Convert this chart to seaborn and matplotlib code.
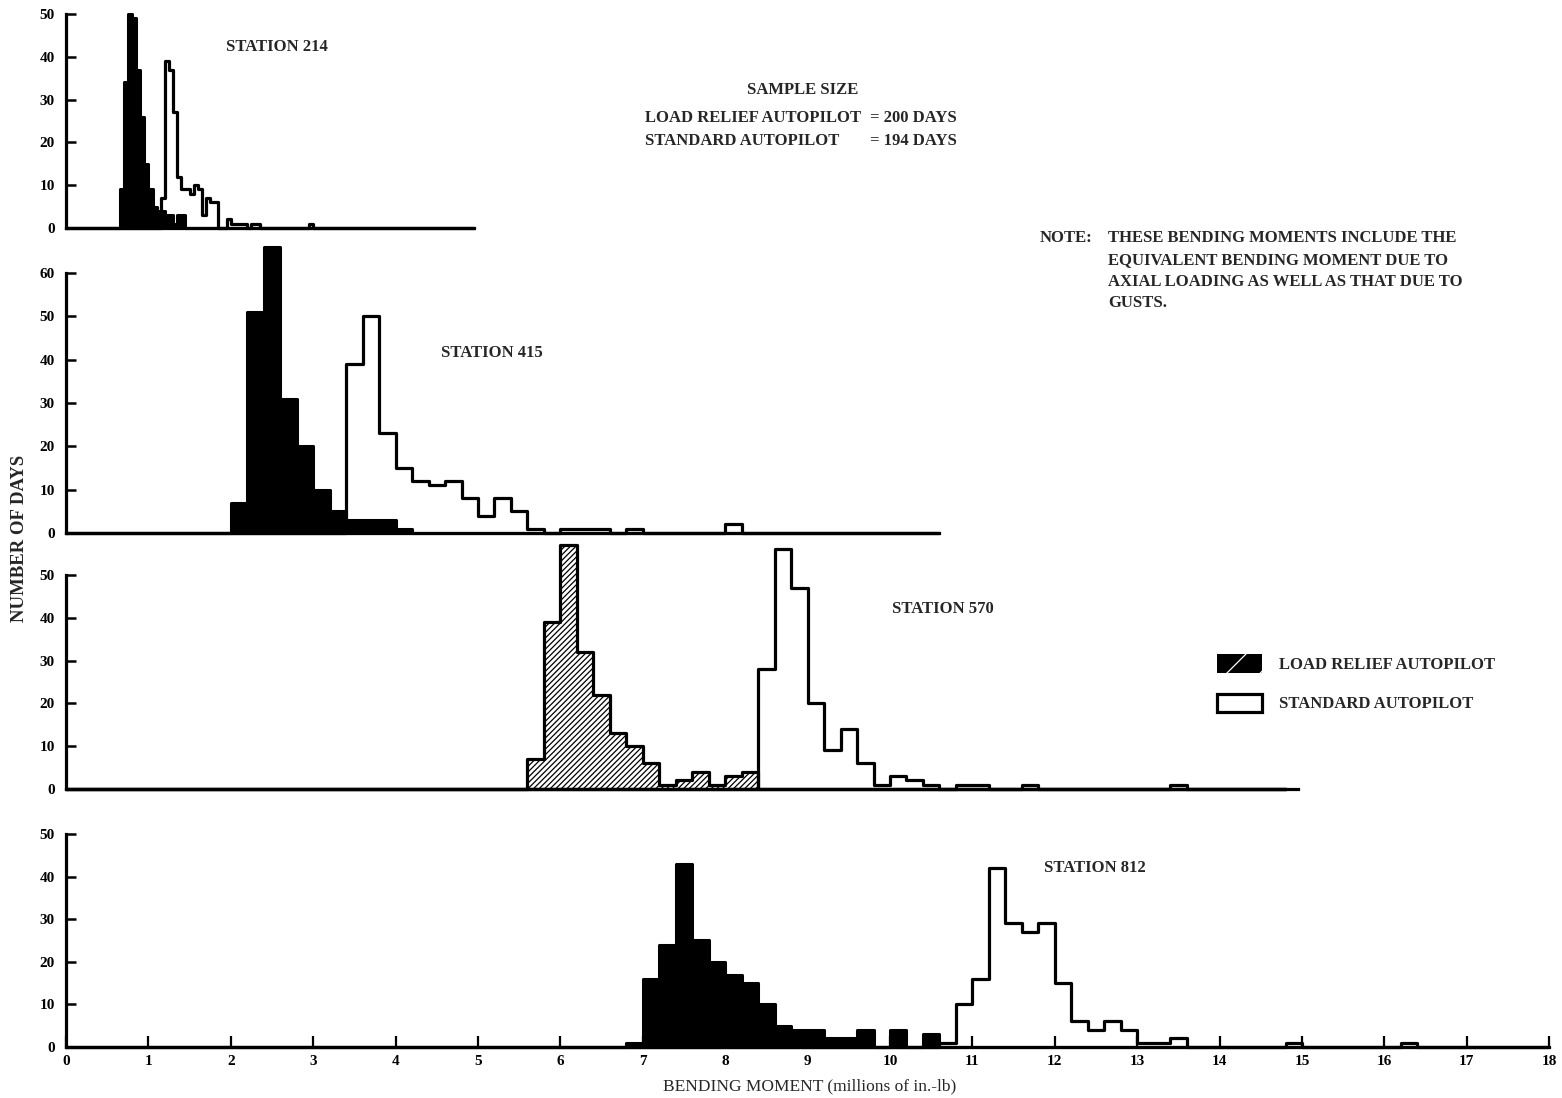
import numpy as np
import pandas as pd
import matplotlib
matplotlib.use("Agg")
import matplotlib.pyplot as plt
import seaborn as sns
from matplotlib.patches import Patch

sns.set_theme(style="white")
plt.rcParams['font.family'] = ['Liberation Serif', 'DejaVu Serif']
plt.rcParams['font.weight'] = 'bold'
plt.rcParams['hatch.linewidth'] = 0.9

# ---------------- data ----------------
stations = ["STATION 214", "STATION 415", "STATION 570", "STATION 812"]
bin_widths = [0.05, 0.2, 0.2, 0.2]          # millions of in.-lb
axis_ends = [4.95, 10.6, 14.95, 18.0]
y_tops = [50, 60, 50, 50]

# Station 214
relief_214_from = 0.65
relief_214 = [9, 34, 50, 49, 37, 26, 15, 9, 5, 4, 4, 3, 3, 1, 3, 3]
standard_214_from = 1.15
standard_214 = [7, 39, 37, 27, 12, 9, 9, 8, 10, 9, 3, 7, 6, 6, 0, 0, 2, 1, 1, 1,
                1, 0, 1, 1, 0, 0, 0, 0, 0, 0, 0, 0, 0, 0, 0, 0, 1]

# Station 415
relief_415_from = 2.0
relief_415 = [7, 51, 66, 31, 20, 10, 5, 3, 3, 3, 1]
standard_415_from = 3.4
standard_415 = [39, 50, 23, 15, 12, 11, 12, 8, 4, 8, 5, 1, 0, 1, 1, 1, 0, 1,
                0, 0, 0, 0, 0, 2]

# Station 570
relief_570_from = 5.6
relief_570 = [7, 39, 57, 32, 22, 13, 10, 6, 1, 2, 4, 1, 3, 4]
standard_570_from = 8.4
standard_570 = [28, 56, 47, 20, 9, 14, 6, 1, 3, 2, 1, 0, 1, 1, 0, 0, 1,
                0, 0, 0, 0, 0, 0, 0, 0, 1]

# Station 812
relief_812_from = 6.8
relief_812 = [1, 16, 24, 43, 25, 20, 17, 15, 10, 5, 4, 4, 2, 2, 4, 0, 4, 0, 3]
standard_812_from = 10.6
standard_812 = [1, 10, 16, 42, 29, 27, 29, 15, 6, 4, 6, 4, 1, 1, 2, 0, 0, 0, 0, 0,
                0, 1, 0, 0, 0, 0, 0, 0, 1]

relief_sets = [(relief_214_from, relief_214), (relief_415_from, relief_415),
               (relief_570_from, relief_570), (relief_812_from, relief_812)]
standard_sets = [(standard_214_from, standard_214), (standard_415_from, standard_415),
                 (standard_570_from, standard_570), (standard_812_from, standard_812)]

sample_relief = 200
sample_standard = 194

# ---------------- figure ----------------
W, H = 1562, 1098
fig = plt.figure(figsize=(W / 100, H / 100), dpi=100)

x0_px = 66.0
px_per_unit = 82.4
# (bottom px, top px) of each panel, top px corresponds to y_tops
panel_y = [(228, 14), (533, 273), (789, 575), (1047, 834)]

TXT = 12
TICK = 11


def frame(start, counts, width, end):
    nb = int(round(end / width))
    edges = np.round(np.arange(nb + 1) * width, 4)
    centers = edges[:-1] + width / 2
    w = np.zeros(nb)
    i0 = int(round(start / width))
    for i, c in enumerate(counts):
        w[i0 + i] = c
    return pd.DataFrame({"x": centers, "w": w}), [float(e) for e in edges]


axes = []
for k in range(4):
    width = bin_widths[k]
    end = axis_ends[k]
    nb_end = np.floor(end / width + 1e-6) * width
    yb, yt = panel_y[k]
    left = x0_px / W
    axw = end * px_per_unit / W
    bottom = 1 - yb / H
    axh = (yb - yt) / H
    ax = fig.add_axes([left, bottom, axw, axh])
    axes.append(ax)

    rdf, redges = frame(relief_sets[k][0], relief_sets[k][1], width, nb_end)
    sdf, sedges = frame(standard_sets[k][0], standard_sets[k][1], width, nb_end)

    if k == 2:
        rkw = dict(facecolor="white", edgecolor="black", hatch="//////", linewidth=2.3)
    else:
        rkw = dict(facecolor="black", edgecolor="black", linewidth=2.2)
    sns.histplot(data=rdf, x="x", weights="w", bins=redges, element="step",
                 fill=True, alpha=1, ax=ax, clip_on=False, **rkw)
    sns.histplot(data=sdf, x="x", weights="w", bins=sedges, element="step",
                 fill=False, color="black", linewidth=2.3, ax=ax, clip_on=False)

    ax.set_xlim(0, end)
    ax.set_ylim(0, y_tops[k])
    ax.set_yticks(range(0, y_tops[k] + 1, 10))
    ax.set_xlabel("")
    ax.set_ylabel("")
    for s in ["top", "right"]:
        ax.spines[s].set_visible(False)
    for s in ["left", "bottom"]:
        ax.spines[s].set_linewidth(2.3)
        ax.spines[s].set_color("black")
    ax.tick_params(axis="y", direction="in", length=7, width=1.8,
                   labelsize=TICK, pad=8, colors="black", left=True)
    if k < 3:
        ax.set_xticks([])
    else:
        ax.set_xticks(range(0, 19))
        ax.tick_params(axis="x", direction="in", length=8, width=1.6,
                       labelsize=TICK, pad=6, colors="black", bottom=True)
    ax.patch.set_alpha(0)
    ax.grid(False)

# station labels
station_pos = [(277, 47), (492, 353), (943, 609), (1095, 868)]
for name, (px, py) in zip(stations, station_pos):
    fig.text(px / W, 1 - py / H, name, ha="center", va="center", fontsize=TXT)

# sample size block
fig.text(803 / W, 1 - 90 / H, "SAMPLE SIZE", ha="center", va="center", fontsize=TXT)
fig.text(645 / W, 1 - 118 / H, "LOAD RELIEF AUTOPILOT", ha="left", va="center", fontsize=TXT)
fig.text(870 / W, 1 - 118 / H, f"= {sample_relief} DAYS", ha="left", va="center", fontsize=TXT)
fig.text(645 / W, 1 - 141 / H, "STANDARD AUTOPILOT", ha="left", va="center", fontsize=TXT)
fig.text(870 / W, 1 - 141 / H, f"= {sample_standard} DAYS", ha="left", va="center", fontsize=TXT)

# note block
fig.text(1040 / W, 1 - 238 / H, "NOTE:", ha="left", va="center", fontsize=TXT)
note_lines = ["THESE BENDING MOMENTS INCLUDE THE",
              "EQUIVALENT BENDING MOMENT DUE TO",
              "AXIAL LOADING AS WELL AS THAT DUE TO",
              "GUSTS."]
for i, line in enumerate(note_lines):
    fig.text(1108 / W, 1 - (238 + 21.8 * i) / H, line, ha="left", va="center", fontsize=TXT)

# legend
handles = [Patch(facecolor="black", edgecolor="white", hatch="/", linewidth=0),
           Patch(facecolor="white", edgecolor="black", linewidth=2.3)]
labels = ["LOAD RELIEF AUTOPILOT", "STANDARD AUTOPILOT"]
fig.legend(handles, labels, loc="upper left", bbox_to_anchor=(1214 / W, 1 - 651 / H),
           frameon=False, fontsize=TXT, handlelength=2.65, handleheight=1.3,
           labelspacing=1.25, handletextpad=1.05, borderaxespad=0, borderpad=0.2)

# axis titles
fig.text(20 / W, 1 - 538 / H, "NUMBER OF DAYS", rotation=90, ha="center", va="center",
         fontsize=13.5)
fig.text(810 / W, 1 - 1086 / H, "BENDING MOMENT (millions of in.-lb)", ha="center",
         va="center", fontsize=12.5, fontweight="normal")

fig.savefig("out.png", dpi=100, facecolor="white")
